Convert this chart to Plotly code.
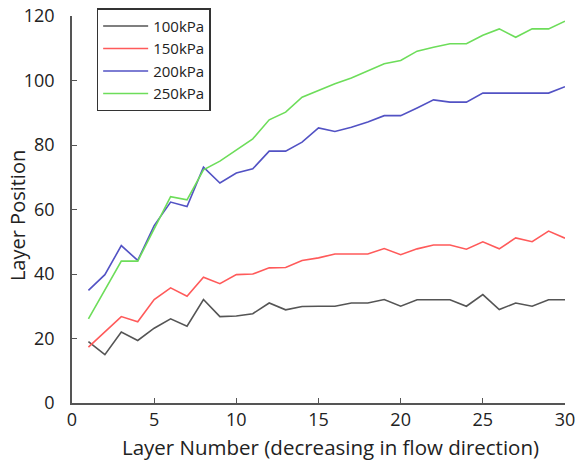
import plotly.graph_objects as go

layers = list(range(1, 31))
p100 = [19, 15, 22, 19.4, 23.2, 26.1, 23.8, 32.1, 26.8, 27, 27.7, 31, 28.9, 29.9, 30,
        30, 31, 31, 32.1, 30, 32, 32, 32, 30, 33.6, 29, 31, 30, 32, 32]
p150 = [17.3, 22, 26.8, 25.2, 32.1, 35.7, 33.1, 39, 37, 39.8, 40, 41.9, 42, 44.2, 45,
        46.2, 46.2, 46.2, 47.9, 46, 47.8, 49, 49, 47.7, 50, 47.8, 51.2, 50, 53.3, 51.1]
p200 = [34.9, 39.8, 48.8, 44.2, 55, 62.3, 60.9, 73.1, 68.2, 71.3, 72.6, 78.1, 78.1, 80.9, 85.3,
        84.2, 85.5, 87.1, 89.1, 89.1, 91.5, 94, 93.3, 93.3, 96.1, 96.1, 96.1, 96.1, 96.1, 98.1]
p250 = [26.1, 35, 44, 44, 54, 64, 63, 72.3, 75, 78.5, 81.9, 87.8, 90.2, 94.8, 96.9,
        99, 100.8, 102.9, 105.2, 106.2, 109.1, 110.3, 111.4, 111.4, 114, 116, 113.4, 116, 116, 118.4]

series = [("100kPa", p100, "#555555"), ("150kPa", p150, "#ff5a5a"),
          ("200kPa", p200, "#5252c4"), ("250kPa", p250, "#6ddd5a")]

fig = go.Figure()
for name, vals, col in series:
    fig.add_trace(go.Scatter(x=layers, y=vals, mode="lines", name=name,
                             line=dict(color=col, width=1.6)))

font_family = "Open Sans, Liberation Sans, sans-serif"
fig.update_layout(
    width=580, height=461,
    margin=dict(l=72, r=15, t=16, b=58, autoexpand=False),
    paper_bgcolor="white", plot_bgcolor="white",
    font=dict(family=font_family, color="#222222", size=18),
    showlegend=True,
    legend=dict(x=0.05, y=1.02, xanchor="left", yanchor="top",
                bordercolor="#333333", borderwidth=1.5, bgcolor="white",
                font=dict(size=15), tracegroupgap=0, itemwidth=45),
    xaxis=dict(range=[0, 30], tickvals=[0, 5, 10, 15, 20, 25, 30],
               ticks="inside", ticklen=5, tickcolor="#555555",
               showline=True, linecolor="#555555", linewidth=1.5,
               showgrid=False, zeroline=False, ticklabelstandoff=0),
    yaxis=dict(range=[0, 120], tickvals=[0, 20, 40, 60, 80, 100, 120],
               ticks="inside", ticklen=5, tickcolor="#555555",
               showline=True, linecolor="#555555", linewidth=1.5,
               showgrid=False, zeroline=False, ticklabelstandoff=12),
    annotations=[
        dict(text="Layer Number (decreasing in flow direction)",
             xref="paper", yref="paper", x=0.525, y=-0.114,
             xanchor="center", yanchor="middle", showarrow=False,
             font=dict(size=20.5)),
        dict(text="Layer Position", textangle=-90,
             xref="paper", yref="paper", x=-0.11, y=0.485,
             xanchor="center", yanchor="middle", showarrow=False,
             font=dict(size=20)),
    ],
)

fig.write_html("out.html")
